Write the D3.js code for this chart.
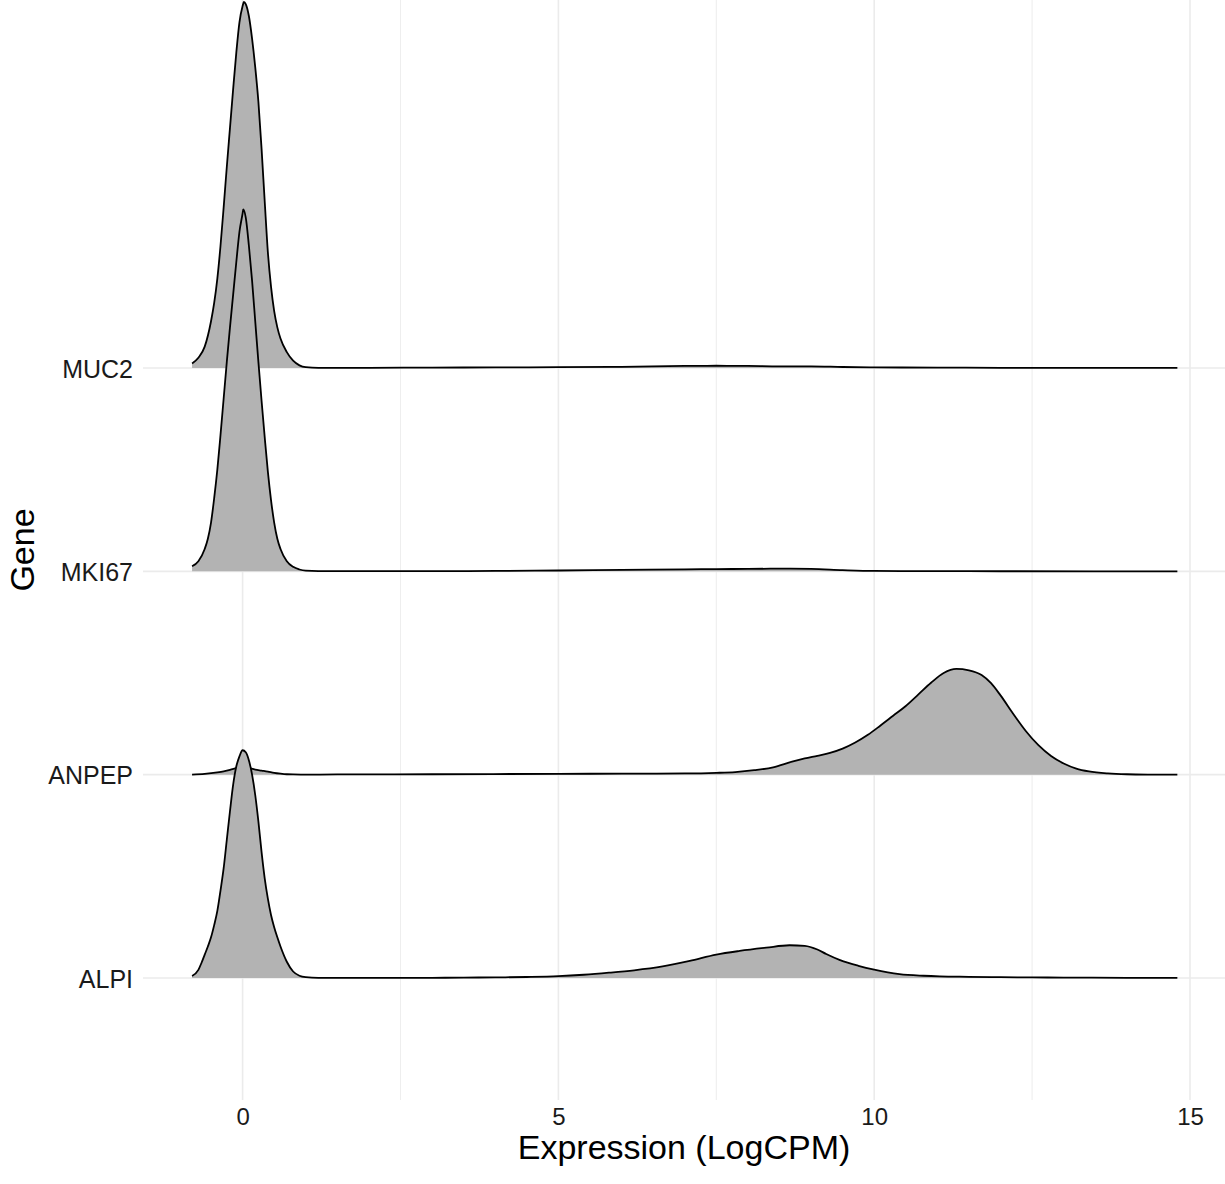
<!DOCTYPE html>
<html>
<head>
<meta charset="utf-8">
<script src="https://cdn.jsdelivr.net/npm/d3@7"></script>
<style>
  html, body { margin: 0; padding: 0; background: #ffffff; }
  svg { display: block; font-family: "Liberation Sans", Arial, Helvetica, sans-serif; }
</style>
</head>
<body>
<script>
// Genes, bottom to top (first level sits on the lowest row)
const genes = ["ALPI", "ANPEP", "MKI67", "MUC2"];

// Density estimates per gene as [logCPM, height in row units]
const alpi = [
  [-0.8, 0.01], [-0.7, 0.04], [-0.65, 0.075], [-0.6, 0.115], [-0.55, 0.155], [-0.5, 0.2],
  [-0.45, 0.26], [-0.4, 0.33], [-0.35, 0.43], [-0.3, 0.54], [-0.25, 0.68], [-0.2, 0.82],
  [-0.15, 0.95], [-0.1, 1.04], [-0.05, 1.09], [0, 1.12], [0.05, 1.11], [0.1, 1.07],
  [0.15, 1.0], [0.2, 0.9], [0.25, 0.77], [0.3, 0.62], [0.35, 0.49], [0.4, 0.39],
  [0.45, 0.31], [0.5, 0.25], [0.55, 0.2], [0.6, 0.155], [0.7, 0.08], [0.8, 0.032],
  [0.9, 0.011], [1.0, 0.004], [1.2, 0.001], [2, 0.0005], [3, 0.001], [3.5, 0.002],
  [4, 0.003], [4.5, 0.005], [5, 0.009], [5.4, 0.016], [5.8, 0.026], [6.2, 0.038],
  [6.65, 0.057], [7.08, 0.084], [7.5, 0.115], [7.87, 0.133], [8.29, 0.149], [8.66, 0.161],
  [8.9, 0.158], [9.1, 0.14], [9.24, 0.118], [9.46, 0.088], [9.75, 0.06], [10, 0.041],
  [10.4, 0.019], [10.78, 0.011], [11.04, 0.008], [11.5, 0.006], [12, 0.004], [12.5, 0.003],
  [13, 0.002], [14, 0.001], [14.8, 0.0005]
];
const anpep = [
  [-0.8, 0.0005], [-0.6, 0.004], [-0.4, 0.011], [-0.3, 0.016], [-0.2, 0.023], [-0.1, 0.032],
  [0, 0.04], [0.1, 0.033], [0.2, 0.025], [0.3, 0.02], [0.4, 0.015], [0.5, 0.009],
  [0.6, 0.005], [0.7, 0.002], [0.8, 0.001], [1.0, 0.0005], [1.5, 0.001], [3, 0.002],
  [5, 0.004], [6, 0.005], [7, 0.006], [7.5, 0.009], [7.8, 0.013], [8.1, 0.022],
  [8.4, 0.036], [8.7, 0.064], [8.9, 0.08], [9.1, 0.093], [9.3, 0.107], [9.5, 0.128],
  [9.7, 0.158], [9.9, 0.196], [10.1, 0.242], [10.3, 0.29], [10.5, 0.338], [10.7, 0.395],
  [10.9, 0.452], [11.1, 0.5], [11.3, 0.52], [11.5, 0.513], [11.7, 0.49], [11.85, 0.45],
  [12.0, 0.39], [12.2, 0.3], [12.4, 0.215], [12.6, 0.145], [12.8, 0.092], [13.0, 0.055],
  [13.2, 0.03], [13.4, 0.016], [13.7, 0.006], [14.0, 0.002], [14.4, 0.0005], [14.8, 0]
];
const mki67 = [
  [-0.8, 0.025], [-0.7, 0.05], [-0.6, 0.11], [-0.55, 0.16], [-0.5, 0.24], [-0.45, 0.36],
  [-0.4, 0.5], [-0.35, 0.67], [-0.3, 0.85], [-0.25, 1.03], [-0.2, 1.2], [-0.15, 1.36],
  [-0.1, 1.52], [-0.05, 1.67], [0, 1.76], [0.01, 1.78], [0.05, 1.74], [0.1, 1.6],
  [0.15, 1.43], [0.2, 1.23], [0.25, 1.03], [0.3, 0.84], [0.35, 0.66], [0.4, 0.49],
  [0.45, 0.35], [0.5, 0.24], [0.55, 0.16], [0.6, 0.11], [0.7, 0.05], [0.8, 0.022],
  [0.9, 0.009], [1.0, 0.003], [1.2, 0.001], [2, 0.001], [3, 0.001], [4, 0.002],
  [5, 0.004], [6, 0.007], [7, 0.01], [7.5, 0.011], [8, 0.012], [8.5, 0.013],
  [9, 0.012], [9.5, 0.006], [10, 0.002], [11, 0.001], [12, 0.0005], [14.8, 0]
];
const muc2 = [
  [-0.8, 0.022], [-0.7, 0.05], [-0.6, 0.105], [-0.5, 0.23], [-0.45, 0.32], [-0.4, 0.44],
  [-0.35, 0.6], [-0.3, 0.79], [-0.25, 0.99], [-0.2, 1.18], [-0.15, 1.37], [-0.1, 1.55],
  [-0.05, 1.7], [0, 1.78], [0.02, 1.8], [0.05, 1.79], [0.1, 1.73], [0.15, 1.62],
  [0.2, 1.48], [0.25, 1.31], [0.3, 1.08], [0.35, 0.82], [0.4, 0.57], [0.45, 0.4],
  [0.5, 0.28], [0.55, 0.2], [0.6, 0.145], [0.7, 0.078], [0.8, 0.036], [0.9, 0.013],
  [1.0, 0.004], [1.2, 0.001], [2, 0.001], [3, 0.002], [4, 0.003], [5, 0.004],
  [6, 0.006], [7, 0.01], [7.5, 0.011], [8, 0.01], [8.5, 0.008], [9, 0.008],
  [9.5, 0.005], [10, 0.003], [11, 0.002], [12, 0.001], [13, 0.001], [14.8, 0.0005]
];
const densities = { ALPI: alpi, ANPEP: anpep, MKI67: mki67, MUC2: muc2 };

const xMajorTicks = [0, 5, 10, 15];
const xMinorTicks = [2.5, 7.5, 12.5];
const xTitle = "Expression (LogCPM)";
const yTitle = "Gene";

const W = 1225, H = 1184;
const panel = { left: 143, right: 1225, top: 0, bottom: 1100 };

const svg = d3.select("body").append("svg").attr("width", W).attr("height", H);

const x = d3.scaleLinear().domain([0, 15]).range([242.6, 1190]);
// row index (1-based, ALPI = 1) plus density height
const y = d3.scaleLinear().domain([0.4, 5.8]).range([panel.bottom, 2]);
const row = d3.scaleOrdinal().domain(genes).range(genes.map((g, i) => i + 1));

// grid
const grid = svg.append("g");
grid.selectAll("line.minor").data(xMinorTicks).join("line")
  .attr("x1", d => x(d)).attr("x2", d => x(d))
  .attr("y1", panel.top).attr("y2", panel.bottom)
  .attr("stroke", "#EEEEEE").attr("stroke-width", 1.1);
grid.selectAll("line.majorx").data(xMajorTicks).join("line")
  .attr("x1", d => x(d)).attr("x2", d => x(d))
  .attr("y1", panel.top).attr("y2", panel.bottom)
  .attr("stroke", "#EBEBEB").attr("stroke-width", 1.6);
grid.selectAll("line.majory").data(genes).join("line")
  .attr("x1", panel.left).attr("x2", panel.right)
  .attr("y1", d => y(row(d))).attr("y2", d => y(row(d)))
  .attr("stroke", "#EBEBEB").attr("stroke-width", 1.6);

// ridges, drawn top row first so lower rows overlap
const ridges = svg.append("g");
genes.slice().reverse().forEach(g => {
  const base = row(g);
  const pts = densities[g];
  const area = d3.area()
    .x(d => x(d[0]))
    .y0(y(base))
    .y1(d => y(base + d[1]))
    .curve(d3.curveMonotoneX);
  const line = d3.line()
    .x(d => x(d[0]))
    .y(d => y(base + d[1]))
    .curve(d3.curveMonotoneX);
  ridges.append("path").datum(pts).attr("d", area)
    .attr("fill", "#B3B3B3").attr("stroke", "none");
  ridges.append("path").datum(pts).attr("d", line)
    .attr("fill", "none").attr("stroke", "#000").attr("stroke-width", 1.8)
    .attr("stroke-linejoin", "round");
});

// x axis
const xAxis = svg.append("g").attr("transform", `translate(0,${panel.bottom})`)
  .call(d3.axisBottom(x).tickValues(xMajorTicks).tickSize(0).tickPadding(8).tickFormat(d3.format("d")));
xAxis.select(".domain").remove();
xAxis.selectAll("text").attr("font-size", 24).attr("fill", "#1a1a1a")
  .attr("font-family", "Liberation Sans, Arial, sans-serif");

// y axis
const yAxis = svg.append("g").attr("transform", `translate(${panel.left},0)`)
  .call(d3.axisLeft(d3.scaleOrdinal().domain(genes).range(genes.map(g => y(row(g)))))
    .tickSize(0).tickPadding(10));
yAxis.select(".domain").remove();
yAxis.selectAll("text").attr("font-size", 25).attr("fill", "#1a1a1a").attr("dy", "0.36em")
  .attr("font-family", "Liberation Sans, Arial, sans-serif");

// titles
svg.append("text")
  .attr("x", (panel.left + panel.right) / 2).attr("y", 1159)
  .attr("text-anchor", "middle").attr("font-size", 34).attr("fill", "#000")
  .text(xTitle);
svg.append("text")
  .attr("transform", `translate(34,${(panel.top + panel.bottom) / 2}) rotate(-90)`)
  .attr("text-anchor", "middle").attr("font-size", 34).attr("fill", "#000")
  .text(yTitle);
</script>
</body>
</html>
